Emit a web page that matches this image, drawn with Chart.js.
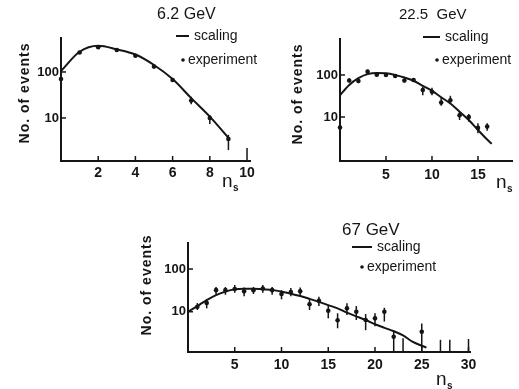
<!DOCTYPE html>
<html>
<head>
<meta charset="utf-8">
<script src="https://cdn.jsdelivr.net/npm/chart.js@4.4.1/dist/chart.umd.min.js"></script>
<style>
    html, body { margin: 0; padding: 0; background: #fff; }
    #wrap { position: relative; width: 519px; height: 389px; overflow: hidden; }
    canvas { position: absolute; left: 0; top: 0; }
</style>
</head>
<body>
<div id="wrap">
    <canvas id="c62" width="519" height="389"></canvas>
    <canvas id="c22" width="519" height="389"></canvas>
    <canvas id="c67" width="519" height="389"></canvas>
</div>
<script>
// ---- 6.2 GeV ----
var n62    = [0, 1, 2, 3, 4, 5, 6, 7, 8, 9];
var exp62  = [70, 265, 345, 300, 225, 131, 67, 24, 10, 3.5];
var lo62   = [66, 252, 330, 288, 216, 125, 62, 20, 7.4, 2.0];
var hi62   = [74, 278, 360, 312, 234, 137, 72, 29, 11.6, 4.3];
var fitN62 = [0, 1, 2, 3, 4, 5, 6, 7, 8, 9];
var fit62  = [105, 275, 370, 310, 240, 142, 70, 27, 10.7, 3.7];
var xTicks62 = [2, 4, 6, 8, 10];

// ---- 22.5 GeV ----
var n22    = [0, 1, 2, 3, 4, 5, 6, 7, 8, 9, 10, 11, 12, 13, 14, 15, 16];
var exp22  = [5.6, 74, 72, 120, 102, 100, 95, 74, 76, 44, 40, 22, 25, 11, 10, 5.5, 5.9];
var lo22   = [5.6, 66, 64, 108, 92, 90, 86, 66, 68, 33, 33, 18.5, 22, 8.5, 7.7, 4.1, 4.7];
var hi22   = [5.6, 84, 82, 133, 112, 110, 104, 83, 85, 52, 50, 29.5, 32, 13.4, 11.8, 7.1, 7.1];
var fitN22 = [0, 1, 2, 3, 4, 5, 6, 7, 8, 9, 10, 11, 12, 13, 14, 15, 16, 16.5];
var fit22  = [33, 58, 84, 105, 112, 110, 100, 87, 73, 55, 42, 29.5, 21, 13.4, 8.5, 4.9, 2.9, 2.3];
var xTicks22 = [5, 10, 15];

// ---- 67 GeV ----
var n67    = [1, 2, 3, 4, 5, 6, 7, 8, 9, 10, 11, 12, 13, 14, 15, 16, 17, 18, 19, 20, 21, 22, 25];
var exp67  = [13, 16, 32, 32, 34, 30, 32, 35, 32, 26, 29, 30, 15, 18, 10.5, 6.3, 12, 10, 6.4, 7, 10, 2.6, 3.4];
var lo67   = [11, 12, 25, 25, 28, 23, 26, 28, 25, 19.5, 23, 24, 11, 13.6, 7, 4.1, 8.4, 6.4, 3.7, 4.6, 5.9, 1.15, 1.15];
var hi67   = [16, 19.5, 38, 38, 42, 37, 38, 42, 38, 32, 36, 37, 19.5, 22.5, 13.6, 9.2, 15.8, 13.6, 8.8, 9.2, 12.4, 3.7, 5.3];
var limN67   = [23, 27, 28, 30];
var limTop67 = [2.4, 2.2, 2.2, 2.3];
var fitN67 = [0, 1, 2, 3, 4, 5, 6, 7, 8, 9, 10, 11, 12, 13, 14, 15, 16, 17, 18, 19, 20, 21, 22, 23, 24, 25.5];
var fit67  = [10, 13.6, 18.7, 24.5, 29.5, 33.5, 34.6, 34.6, 33.5, 32.5, 29.5, 26.5, 23.3, 20, 17, 14.3, 12, 9.5, 7.8, 6.4, 5.1, 4.2, 3.5, 2.8, 2.0, 1.44];
var xTicks67 = [5, 10, 15, 20, 25, 30];

var yTicks = [10, 100];

var ink = '#151515';
var fam = '"Liberation Sans", Arial, sans-serif';

function makePanel(id, p) {

    var pts = p.n.map(function (v, i) { return {x: v, y: p.exp[i]}; });
    var fit = p.fitN.map(function (v, i) { return {x: v, y: p.fit[i]}; });

    // error bars, inward ticks, titles and the little legend
    var extras = {
        id: 'extras',
        afterDatasetsDraw: function (chart) {
            var ctx = chart.ctx, xs = chart.scales.x, ys = chart.scales.y;
            ctx.save();
            ctx.strokeStyle = ink;
            ctx.lineWidth = 1.5;
            for (var i = 0; i < p.n.length; i++) {
                var px = xs.getPixelForValue(p.n[i]);
                ctx.beginPath();
                ctx.moveTo(px, ys.getPixelForValue(p.lo[i]));
                ctx.lineTo(px, ys.getPixelForValue(p.hi[i]));
                ctx.stroke();
            }
            var lim = p.limN || [];
            for (var j = 0; j < lim.length; j++) {
                var lx = xs.getPixelForValue(lim[j]);
                ctx.beginPath();
                ctx.moveTo(lx, chart.chartArea.bottom);
                ctx.lineTo(lx, ys.getPixelForValue(p.limTop[j]));
                ctx.stroke();
            }
            ctx.restore();
        },
        afterDraw: function (chart) {
            var ctx = chart.ctx, xs = chart.scales.x, ys = chart.scales.y;
            var area = chart.chartArea;
            ctx.save();
            ctx.strokeStyle = ink;
            ctx.fillStyle = ink;
            ctx.lineWidth = 1.5;

            // tick marks point into the plot
            p.xTicks.forEach(function (v) {
                var px = xs.getPixelForValue(v);
                var len = (v === p.xTall) ? 13 : 5;
                ctx.beginPath();
                ctx.moveTo(px, area.bottom);
                ctx.lineTo(px, area.bottom - len);
                ctx.stroke();
            });
            yTicks.forEach(function (v) {
                var py = ys.getPixelForValue(v);
                ctx.beginPath();
                ctx.moveTo(area.left, py);
                ctx.lineTo(area.left + 5, py);
                ctx.stroke();
            });

            // panel title
            ctx.textBaseline = 'middle';
            ctx.textAlign = 'left';
            ctx.font = p.titleSize + 'px ' + fam;
            ctx.fillText(p.title, p.titleX, p.titleY);

            // legend
            var ds = chart.data.datasets;
            ctx.font = '14px ' + fam;
            ctx.lineWidth = 2;
            ctx.beginPath();
            ctx.moveTo(p.leg[0], p.leg[1]);
            ctx.lineTo(p.leg[0] + p.leg[2], p.leg[1]);
            ctx.stroke();
            ctx.fillText(ds[1].label, p.leg[0] + p.leg[2] + 5, p.leg[1]);
            ctx.beginPath();
            ctx.arc(p.leg[3], p.leg[4], 1.8, 0, Math.PI * 2);
            ctx.fill();
            ctx.fillText(ds[0].label, p.leg[3] + 5, p.leg[4]);

            // y axis title
            ctx.save();
            ctx.translate(p.yLab[0], p.yLab[1]);
            ctx.rotate(-Math.PI / 2);
            ctx.textAlign = 'center';
            ctx.font = 'bold 14px ' + fam;
            ctx.letterSpacing = '1px';
            ctx.fillText('No. of events', 0, 0);
            ctx.restore();

            // n with subscript s
            ctx.textBaseline = 'alphabetic';
            ctx.font = '19px ' + fam;
            ctx.fillText('n', p.ns[0], p.ns[1]);
            ctx.font = 'bold 10px ' + fam;
            ctx.fillText('s', p.ns[0] + 11, p.ns[1] + 4);
            ctx.restore();
        }
    };

    var ctx = document.getElementById(id).getContext('2d');

    new Chart(ctx, {
        type: 'scatter',
        data: {
            datasets: [{
                label: 'experiment',
                data: pts,
                pointRadius: 2.3,
                pointBorderWidth: 0,
                backgroundColor: ink,
                borderColor: ink,
                clip: false
            }, {
                label: 'scaling',
                data: fit,
                showLine: true,
                pointRadius: 0,
                borderColor: ink,
                borderWidth: 2,
                cubicInterpolationMode: 'monotone',
                fill: false,
                clip: false
            }]
        },
        options: {
            responsive: false,
            animation: false,
            events: [],
            layout: {
                padding: {
                    left: 0,
                    top: p.area.top,
                    right: 519 - p.area.right,
                    bottom: 389 - p.area.bottom - 30
                }
            },
            plugins: {
                legend: {display: false},
                tooltip: {enabled: false}
            },
            scales: {
                x: {
                    type: 'linear',
                    min: 0,
                    max: p.xMax,
                    afterBuildTicks: function (axis) {
                        axis.ticks = p.xTicks.map(function (v) { return {value: v}; });
                    },
                    afterFit: function (axis) { axis.height = 30; },
                    grid: {display: false, drawTicks: false},
                    border: {display: true, color: ink, width: 2},
                    ticks: {
                        padding: p.xPad,
                        color: ink,
                        maxRotation: 0,
                        autoSkip: false,
                        font: {family: fam, size: 14, weight: 'bold'},
                        callback: function (v) { return String(v); }
                    }
                },
                y: {
                    type: 'logarithmic',
                    min: p.yMin,
                    max: p.yMax,
                    afterBuildTicks: function (axis) {
                        axis.ticks = yTicks.map(function (v) { return {value: v}; });
                    },
                    afterFit: function (axis) { axis.width = p.area.left; },
                    grid: {display: false, drawTicks: false},
                    border: {display: true, color: ink, width: 2},
                    ticks: {
                        padding: 2,
                        color: ink,
                        autoSkip: false,
                        font: {family: fam, size: 13, weight: 'bold'},
                        callback: function (v) { return String(v); }
                    }
                }
            }
        },
        plugins: [extras]
    });
}

makePanel('c62', {
    n: n62, exp: exp62, lo: lo62, hi: hi62, fitN: fitN62, fit: fit62,
    xTicks: xTicks62, xTall: 10, xMax: 10.16, yMin: 1.16, yMax: 548,
    area: {left: 61, top: 38, right: 250, bottom: 161}, xPad: 4,
    title: '6.2 GeV', titleSize: 16, titleX: 157, titleY: 15,
    leg: [176, 36, 13, 183, 60],
    yLab: [25, 93], ns: [222, 187]
});

makePanel('c22', {
    n: n22, exp: exp22, lo: lo22, hi: hi22, fitN: fitN22, fit: fit22,
    xTicks: xTicks22, xTall: null, xMax: 18.7, yMin: 0.895, yMax: 720,
    area: {left: 340, top: 39, right: 512, bottom: 161}, xPad: 6,
    title: '22.5  GeV', titleSize: 15, titleX: 399, titleY: 15,
    leg: [423, 37, 17, 437, 60],
    yLab: [298, 94], ns: [496, 188]
});

makePanel('c67', {
    n: n67, exp: exp67, lo: lo67, hi: hi67, fitN: fitN67, fit: fit67,
    limN: limN67, limTop: limTop67,
    xTicks: xTicks67, xTall: null, xMax: 30.16, yMin: 1.14, yMax: 407,
    area: {left: 188, top: 243, right: 470, bottom: 352}, xPad: 5,
    title: '67 GeV', titleSize: 17, titleX: 342, titleY: 230,
    leg: [352, 247, 20, 362, 267],
    yLab: [147, 285], ns: [436, 385]
});
</script>
</body>
</html>
